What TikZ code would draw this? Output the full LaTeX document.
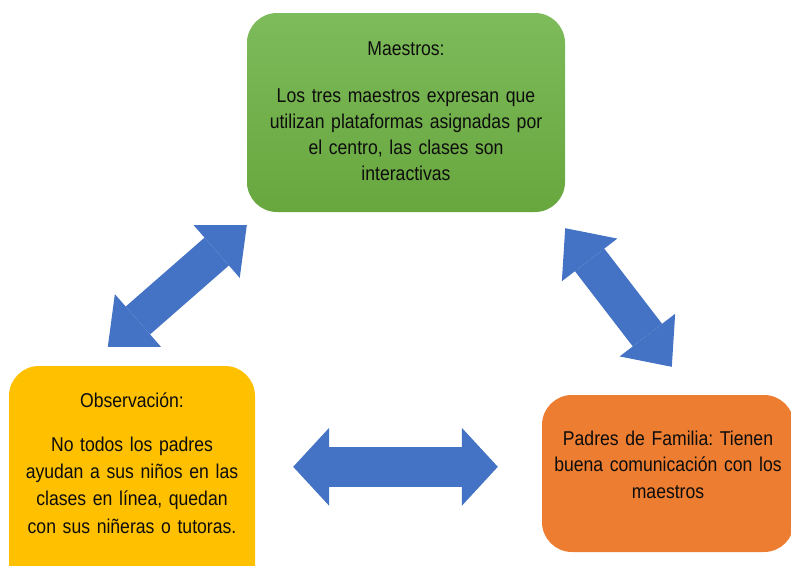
\documentclass[tikz,border=0pt]{standalone}
\usepackage{fontspec}
\setmainfont{Liberation Sans}[FakeStretch=0.88]
\usetikzlibrary{arrows.meta}
\frenchspacing

\definecolor{verde}{HTML}{68A63E}
\definecolor{verdeclaro}{HTML}{7DBB5B}
\definecolor{amarillo}{HTML}{FFC000}
\definecolor{naranja}{HTML}{ED7D31}
\definecolor{azul}{HTML}{4472C4}

\tikzset{
  caja/.style={rounded corners=30pt, align=center, inner sep=0pt, anchor=base,
    font=\fontsize{20}{26}\selectfont, text=black!95},
  punta/.tip={Triangle[width=70pt,length=40pt,line width=0pt]},
  puntah/.tip={Triangle[width=78pt,length=36pt,line width=0pt]},
  flecha/.style={draw=azul, line width=37pt, punta-punta},
  flechah/.style={draw=azul, line width=40pt, puntah-puntah}
}

\begin{document}
\begin{tikzpicture}[x=1pt,y=-1pt]
  \useasboundingbox (0,0) rectangle (791,565);
  \clip (0,0) rectangle (791,565);

  \node (maes) [caja, top color=verdeclaro, bottom color=verde, text width=318pt,
    text height=42pt, text depth=157pt] at (406,55)
    {Maestros:\\[21pt]Los tres maestros expresan que\\utilizan plataformas asignadas por\\el centro, las clases son\\interactivas};
  \node (obs) [caja, fill=amarillo, text width=246pt, text height=41pt, text depth=210pt,
    font=\fontsize{20}{27.3}\selectfont] at (132,407)
    {Observación:\\[17pt]No todos los padres\\ayudan a sus niños en las\\clases en línea, quedan\\con sus niñeras o tutoras.};
  \node (pad) [caja, fill=naranja, text width=252pt, text height=50pt, text depth=107pt,
    font=\fontsize{20}{26.5}\selectfont] at (668,445)
    {Padres de Familia: Tienen\\buena comunicación con los\\maestros};

  \draw[flecha] ([xshift=99pt,yshift=19pt]obs.north west) -- ([yshift=-13pt]maes.south west);
  \draw[flecha] ([yshift=-16pt]maes.south east) -- ([xshift=130pt,yshift=28pt]pad.north west);
  \draw[flechah] ([xshift=38pt,yshift=-101pt]obs.north east) -- ([xshift=-44pt,yshift=-72pt]pad.north west);
\end{tikzpicture}
\end{document}
